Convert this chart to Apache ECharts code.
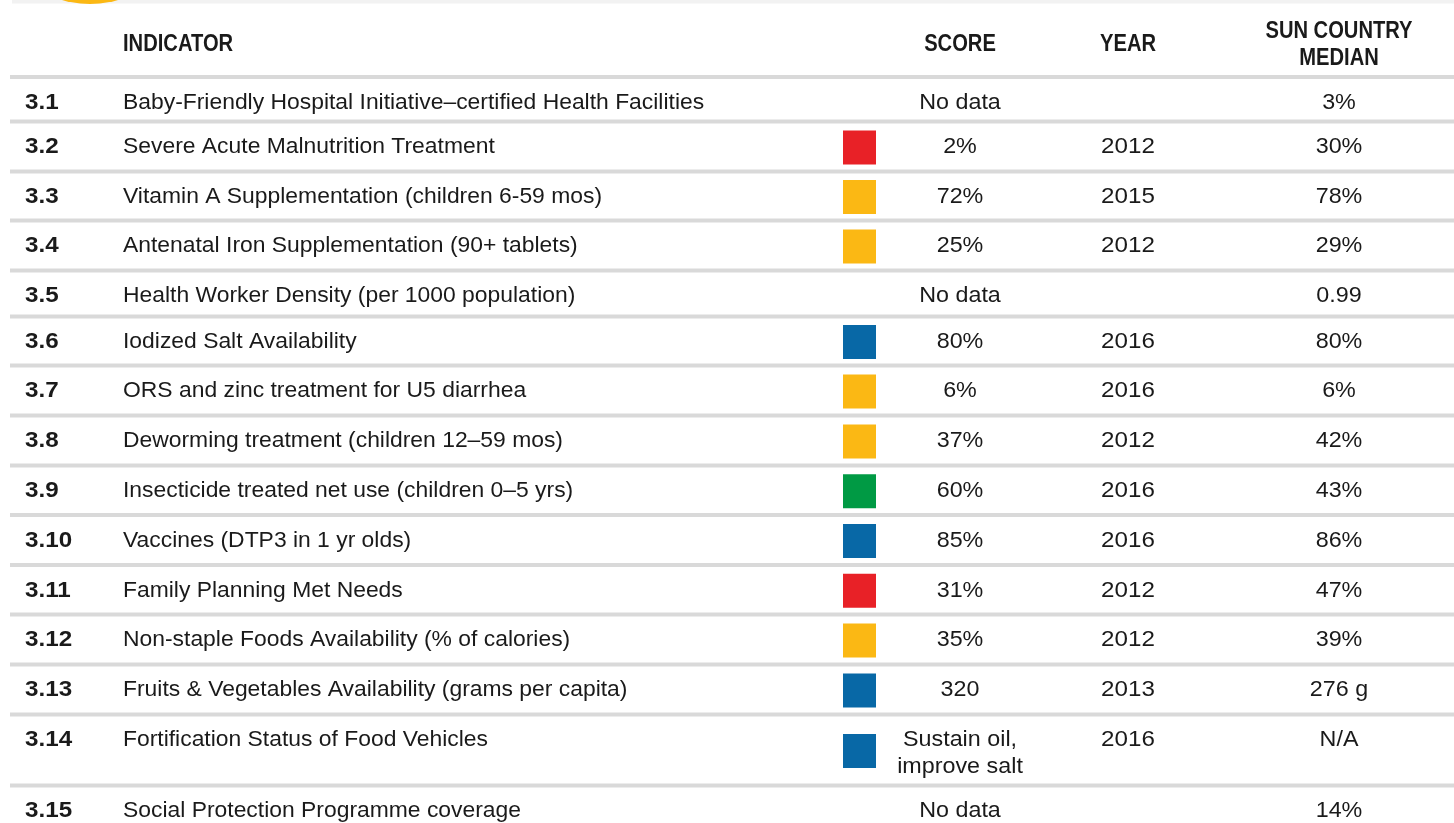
<!DOCTYPE html>
<html>
<head>
<meta charset="utf-8">
<script src="https://cdn.jsdelivr.net/npm/echarts@6/dist/echarts.min.js"></script>
<style>
  html, body { margin: 0; padding: 0; background: #ffffff; }
  #chart { width: 1454px; height: 823px; }
</style>
</head>
<body>
<div id="chart"></div>
<script>
// ---------------- DATA ----------------
const headers = ['INDICATOR', 'SCORE', 'YEAR', 'SUN COUNTRY\nMEDIAN'];
const rowIds = ['3.1', '3.2', '3.3', '3.4', '3.5', '3.6', '3.7', '3.8', '3.9', '3.10', '3.11', '3.12', '3.13', '3.14', '3.15'];
const indicators = [
  'Baby-Friendly Hospital Initiative\u2013certified Health Facilities',
  'Severe Acute Malnutrition Treatment',
  'Vitamin A Supplementation (children 6-59 mos)',
  'Antenatal Iron Supplementation (90+ tablets)',
  'Health Worker Density (per 1000 population)',
  'Iodized Salt Availability',
  'ORS and zinc treatment for U5 diarrhea',
  'Deworming treatment (children 12\u201359 mos)',
  'Insecticide treated net use (children 0\u20135 yrs)',
  'Vaccines (DTP3 in 1 yr olds)',
  'Family Planning Met Needs',
  'Non-staple Foods Availability (% of calories)',
  'Fruits & Vegetables Availability (grams per capita)',
  'Fortification Status of Food Vehicles',
  'Social Protection Programme coverage'
];
const scores = ['No data', '2%', '72%', '25%', 'No data', '80%', '6%', '37%', '60%', '85%', '31%', '35%', '320', 'Sustain oil,\nimprove salt', 'No data'];
const years = ['', '2012', '2015', '2012', '', '2016', '2016', '2012', '2016', '2016', '2012', '2012', '2013', '2016', ''];
const medians = ['3%', '30%', '78%', '29%', '0.99', '80%', '6%', '42%', '43%', '86%', '47%', '39%', '276 g', 'N/A', '14%'];
const ratings = [null, 'red', 'yellow', 'yellow', null, 'blue', 'yellow', 'yellow', 'green', 'blue', 'red', 'yellow', 'blue', 'blue', null];

// ---------------- STYLE / LAYOUT ----------------
const ratingColors = { red: '#e82127', yellow: '#fbb814', blue: '#0868a6', green: '#009a44' };
const textColor = '#1a1a1a';
const lineColor = '#d9d9d9';
const bodyFont = '"Liberation Sans", Arial, sans-serif';
const headFont = '"Liberation Sans", Arial, sans-serif';
const firstLineY = 77;
const rowHeights = [44.5, 50, 49, 50, 46, 49, 50, 50, 49.5, 50, 49.5, 50, 50, 71, 50];
const colX = { id: 25, indicator: 123, square: 859.5, score: 960, year: 1128, median: 1339, lineStart: 10, lineEnd: 1454 };
const rowTops = [];
rowHeights.reduce((acc, h) => { rowTops.push(acc); return acc + h; }, firstLineY);

const chart = echarts.init(document.getElementById('chart'));

function txt(p, text, align, size, weight, family, sx) {
  return {
    type: 'text',
    x: p[0], y: p[1], scaleX: sx || 1,
    style: {
      text: text, x: 0, y: 0, align: align, verticalAlign: 'middle',
      fill: textColor, fontSize: size, fontWeight: weight || 'normal', fontFamily: family || bodyFont
    }
  };
}

function renderRow(params, api) {
  const i = api.value(0);
  const top = rowTops[i];
  const h = rowHeights[i];
  const ty = top + 25.5;
  const children = [];
  const l0 = api.coord([colX.lineStart, top]);
  const l1 = api.coord([colX.lineEnd, top]);
  children.push({ type: 'rect', shape: { x: l0[0], y: l0[1] - 2, width: l1[0] - l0[0], height: 4 }, style: { fill: lineColor } });
  children.push(txt(api.coord([colX.id, ty]), rowIds[i], 'left', 22, 'bold', bodyFont, 1.1));
  children.push(txt(api.coord([colX.indicator, ty]), indicators[i], 'left', 22, 'normal', bodyFont, 1.04));
  if (ratings[i]) {
    const c = api.coord([colX.square, top + h / 2 + 1]);
    children.push({ type: 'rect', shape: { x: c[0] - 16.5, y: c[1] - 17, width: 33, height: 34 }, style: { fill: ratingColors[ratings[i]] } });
  }
  scores[i].split('\n').forEach((s, k) => {
    children.push(txt(api.coord([colX.score, ty + k * 27]), s, 'center', 22, 'normal', bodyFont, 1.06));
  });
  if (years[i]) children.push(txt(api.coord([colX.year, ty]), years[i], 'center', 22, 'normal', bodyFont, 1.1));
  children.push(txt(api.coord([colX.median, ty]), medians[i], 'center', 22, 'normal', bodyFont, 1.06));
  return { type: 'group', children: children };
}

function renderHeader(params, api) {
  const children = [];
  const sx = 0.84;
  children.push(txt(api.coord([colX.indicator, 44]), headers[0], 'left', 24, 'bold', headFont, sx));
  children.push(txt(api.coord([colX.score, 44]), headers[1], 'center', 24, 'bold', headFont, sx));
  children.push(txt(api.coord([colX.year, 44]), headers[2], 'center', 24, 'bold', headFont, sx));
  headers[3].split('\n').forEach((s, k) => {
    children.push(txt(api.coord([colX.median, 31 + k * 27]), s, 'center', 24, 'bold', headFont, sx));
  });
  return { type: 'group', children: children };
}

chart.setOption({
  animation: false,
  backgroundColor: '#ffffff',
  grid: { left: 0, right: 0, top: 0, bottom: 0 },
  xAxis: { type: 'value', min: 0, max: 1454, show: false },
  yAxis: { type: 'value', min: 0, max: 823, inverse: true, show: false },
  graphic: [
    { type: 'rect', left: 12, top: 0, shape: { width: 1442, height: 3.5 }, style: { fill: '#f2f2f2' }, z: 0 },
    { type: 'circle', shape: { cx: 90, cy: -96, r: 100 }, style: { fill: '#fbb814' }, z: 1 }
  ],
  series: [
    { type: 'custom', renderItem: renderHeader, data: [[0]], silent: true },
    { type: 'custom', renderItem: renderRow, data: rowIds.map((_, i) => [i]), silent: true }
  ]
});
</script>
</body>
</html>
